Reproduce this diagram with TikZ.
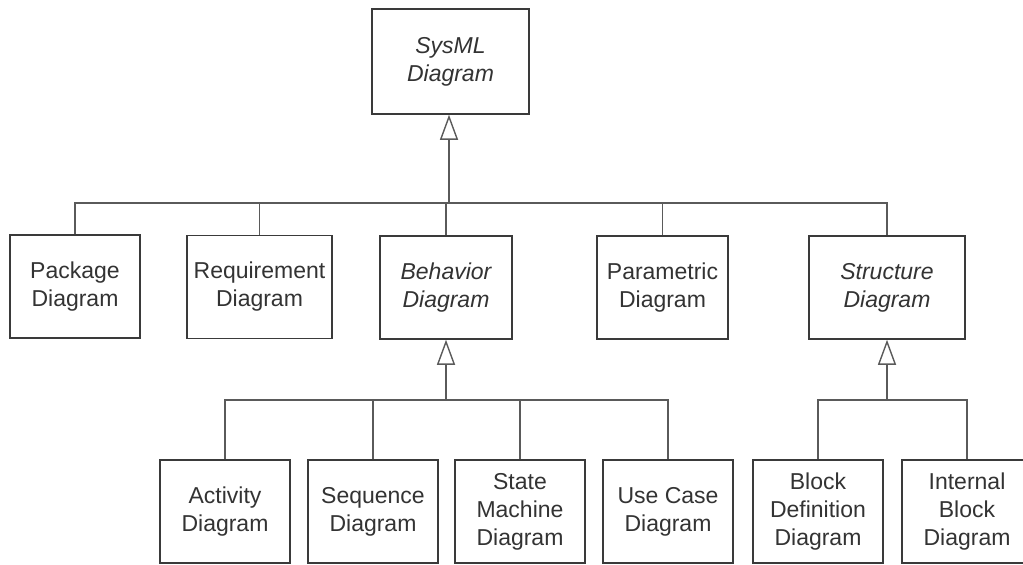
\documentclass[tikz,border=0pt]{standalone}
\usepackage{fontspec}
\setmainfont{Liberation Sans}
\usetikzlibrary{arrows.meta}
\definecolor{boxline}{HTML}{3A3A3A}
\definecolor{connline}{HTML}{5A5A5A}
\definecolor{labeltext}{HTML}{333333}
\tikzset{
  diag/.style={draw=boxline, line width=1.5pt, fill=white, inner sep=0pt,
    align=center, text=labeltext, font=\fontsize{23}{28}\selectfont,
    minimum height=103pt},
  abstractdiag/.style={diag, font=\fontsize{23}{28}\selectfont\itshape},
  conn/.style={draw=connline, line width=1.4pt},
  gen/.style={conn, -{Triangle[open, length=25pt, width=18pt, line width=1.4pt]}}
}
\begin{document}
\begin{tikzpicture}[x=1pt, y=-1pt]
  \path[use as bounding box] (0,0) rectangle (1023,565);
  \clip (0,0) rectangle (1023,565);

  % root
  \node[abstractdiag, minimum width=157pt, minimum height=105pt] (sysml) at (450.5,61.5) {SysML\\Diagram};

  % second level
  \node[diag, minimum width=130pt] (package) at (75,286.5) {Package\\Diagram};
  \node[diag, minimum width=145pt] (requirement) at (259.5,287) {Requirement\\Diagram};
  \node[abstractdiag, minimum width=132pt] (behavior) at (446,287.5) {Behavior\\Diagram};
  \node[diag, minimum width=131pt] (parametric) at (662.5,287.5) {Parametric\\Diagram};
  \node[abstractdiag, minimum width=156pt] (structure) at (887,287.5) {Structure\\Diagram};

  % third level
  \node[diag, minimum width=130pt] (activity) at (225,511.5) {Activity\\Diagram};
  \node[diag, minimum width=130pt] (sequence) at (373,511.5) {Sequence\\Diagram};
  \node[diag, minimum width=130pt] (statemachine) at (520,511.5) {State\\Machine\\Diagram};
  \node[diag, minimum width=130pt] (usecase) at (668,511.5) {Use Case\\Diagram};
  \node[diag, minimum width=130pt] (blockdef) at (818,511.5) {Block\\Definition\\Diagram};
  \node[diag, minimum width=130pt] (internal) at (967,511.5) {Internal\\Block\\Diagram};

  % junction points of the generalization trees
  \coordinate (bus1) at (449,203);
  \coordinate (bus2) at (446,400);
  \coordinate (bus3) at (887,400);

  % SysML Diagram specializations
  \draw[conn] (package.north) |- (bus1);
  \draw[conn] (structure.north) |- (bus1);
  \draw[conn] (requirement.north) -- (requirement.north |- bus1);
  \draw[conn] (parametric.north) -- (parametric.north |- bus1);
  \draw[conn] (behavior.north) -- (behavior.north |- bus1);
  \draw[gen] (bus1) -- (sysml.south -| bus1);

  % Behavior Diagram specializations
  \draw[conn] (activity.north) |- (bus2);
  \draw[conn] (usecase.north) |- (bus2);
  \draw[conn] (sequence.north) -- (sequence.north |- bus2);
  \draw[conn] (statemachine.north) -- (statemachine.north |- bus2);
  \draw[gen] (bus2) -- (behavior.south);

  % Structure Diagram specializations
  \draw[conn] (blockdef.north) |- (bus3);
  \draw[conn] (internal.north) |- (bus3);
  \draw[gen] (bus3) -- (structure.south);
\end{tikzpicture}
\end{document}
